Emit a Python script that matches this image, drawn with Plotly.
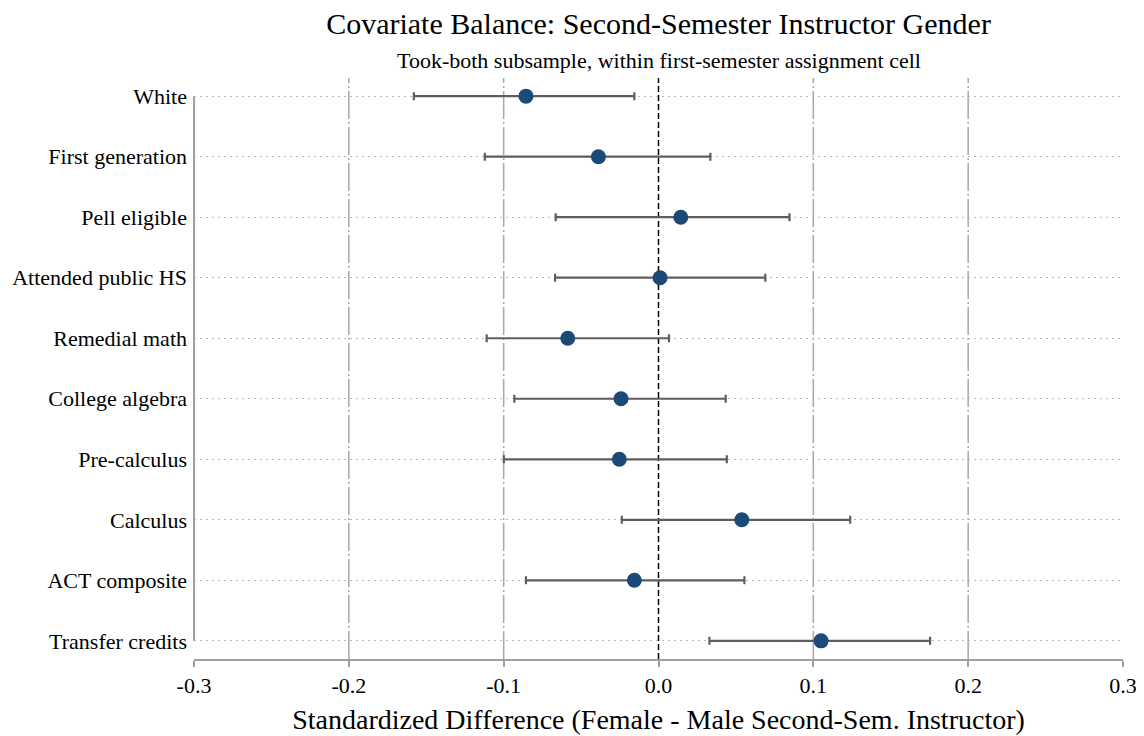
import plotly.graph_objects as go

categories = ["White", "First generation", "Pell eligible", "Attended public HS",
              "Remedial math", "College algebra", "Pre-calculus", "Calculus",
              "ACT composite", "Transfer credits"]
estimates = [-0.0856, -0.0388, 0.0144, 0.0010, -0.0586, -0.0242, -0.0253, 0.0538, -0.0156, 0.1050]
ci_low = [-0.1580, -0.1122, -0.0664, -0.0668, -0.1110, -0.0931, -0.0999, -0.0237, -0.0856, 0.0329]
ci_high = [-0.0156, 0.0335, 0.0846, 0.0690, 0.0068, 0.0434, 0.0441, 0.1238, 0.0555, 0.1754]
x_tickvals = [-0.3, -0.2, -0.1, 0.0, 0.1, 0.2, 0.3]
x_ticktext = ["-0.3", "-0.2", "-0.1", "0.0", "0.1", "0.2", "0.3"]
ref_lines = [-0.2, -0.1, 0.1, 0.2]

FONT = "Liberation Serif"

fig = go.Figure()
fig.add_trace(go.Scatter(
    x=estimates, y=categories, mode="markers",
    marker=dict(size=15, color="#1b4a78"),
    error_x=dict(type="data", symmetric=False,
                 array=[h - e for h, e in zip(ci_high, estimates)],
                 arrayminus=[e - l for e, l in zip(estimates, ci_low)],
                 color="#5e5e5e", thickness=2.2, width=4),
    showlegend=False, hoverinfo="x+y",
))

for v in ref_lines:
    fig.add_shape(type="line", xref="x", yref="paper", x0=v, x1=v, y0=0, y1=1,
                  line=dict(color="#a8a8a8", width=1.5, dash="28px,3px,2px,3px"), layer="below")
fig.add_shape(type="line", xref="x", yref="paper", x0=0, x1=0, y0=0, y1=1,
              line=dict(color="black", width=1.5, dash="6px,3px"), layer="below")
# left axis line spanning the categories
fig.add_shape(type="line", xref="paper", yref="y", x0=0, x1=0,
              y0=categories[-1], y1=categories[0],
              line=dict(color="#a0a0a0", width=2))

fig.update_layout(
    width=1136, height=728,
    margin=dict(l=186, r=21, t=70, b=77, autoexpand=False),
    paper_bgcolor="white", plot_bgcolor="white",
    font=dict(family=FONT, color="black", size=22),
    title=dict(text="Covariate Balance: Second-Semester Instructor Gender",
               x=0.5, xref="paper", y=1 - 5 / 728, yref="container", yanchor="top",
               pad=dict(t=0, b=0),
               font=dict(family=FONT, size=30, color="black")),
    annotations=[dict(text="Took-both subsample, within first-semester assignment cell",
                      xref="paper", yref="paper", x=0.5, y=1, yshift=18,
                      showarrow=False, yanchor="middle",
                      font=dict(family=FONT, size=22, color="black"))],
)
fig.update_xaxes(range=[-0.3, 0.3], tickvals=x_tickvals, ticktext=x_ticktext,
                 automargin=False,
                 showgrid=False, zeroline=False, showline=True, linecolor="#a0a0a0",
                 linewidth=2, ticks="outside", ticklen=6, tickcolor="#a0a0a0", tickwidth=1.5,
                 tickfont=dict(family=FONT, size=22, color="black"),
                 title=dict(text="Standardized Difference (Female - Male Second-Sem. Instructor)",
                            font=dict(family=FONT, size=28, color="black"), standoff=12))
fig.update_yaxes(categoryorder="array", categoryarray=categories[::-1],
                 automargin=False,
                 range=[-0.3, 9.3], showgrid=True, gridcolor="#b8b8b8", griddash="1.5px,4.5px",
                 gridwidth=1, zeroline=False, showline=False, ticks="",
                 ticklabelstandoff=6,
                 tickfont=dict(family=FONT, size=22, color="black"))

fig.write_html("out.html")
